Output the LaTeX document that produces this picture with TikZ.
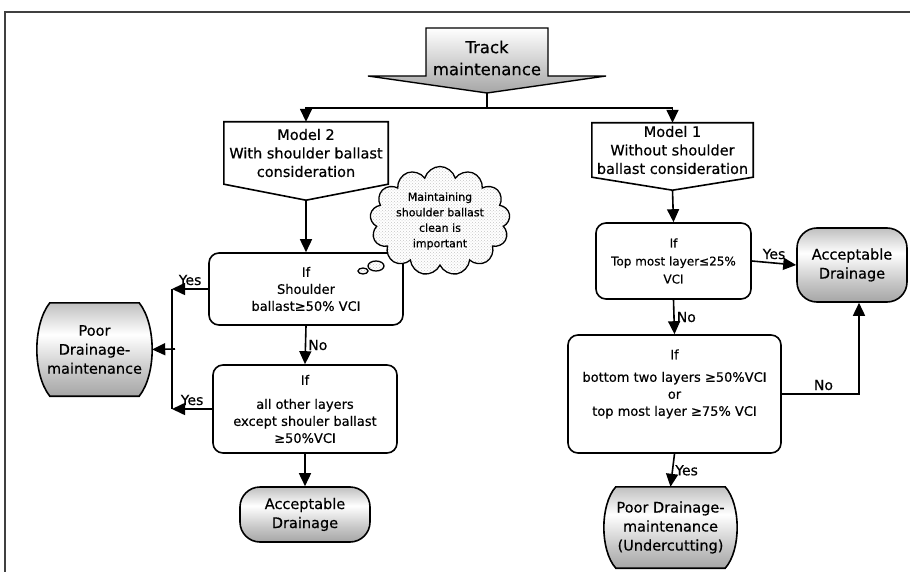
\documentclass[tikz,border=0pt]{standalone}
\usepackage{fontspec}
\setmainfont{DejaVu Sans}[FakeBold=0.5]
\usetikzlibrary{arrows.meta,positioning,calc,shapes.symbols,shapes.geometric,patterns,backgrounds}

\pgfdeclareverticalshading{termshade}{100bp}{color(0bp)=(gray!70); color(25bp)=(gray!70); color(38bp)=(gray!45); color(58bp)=(white); color(75bp)=(gray!50); color(100bp)=(gray!50)}

\newcommand\ftrack{\fontsize{16.5}{22}\selectfont}
\newcommand\fmodel{\fontsize{14.5}{18.5}\selectfont}
\newcommand\fterm{\fontsize{14.5}{19}\selectfont}
\newcommand\fif{\fontsize{13}{17}\selectfont}
\newcommand\fsmall{\fontsize{12}{18}\selectfont}
\newcommand\flbl{\fontsize{14}{16}\selectfont}
\newcommand\fcloud{\fontsize{11}{15.5}\selectfont}

% pentagon under a node, tip coordinate is <name>tip
\newcommand\modelshape[2]{\draw[ln] (#1.north west) -- (#1.north east) -- (#1.south east) -- ($(#1.south)+(0,#2)$) coordinate (#1tip) -- (#1.south west) -- cycle;}
% box with bulging sides, drawn behind a node
\newcommand\poorshape[3]{\path[bulge] ($(#1.north west)+(#2,0)$) coordinate (#1a) -- ($(#1.north east)+(-#2,0)$) .. controls +(1.33*#2,#3) and +(1.33*#2,-#3) .. ($(#1.south east)+(-#2,0)$) -- ($(#1.south west)+(#2,0)$) .. controls +(-1.33*#2,-#3) and +(-1.33*#2,#3) .. (#1a) -- cycle;}

\tikzset{
  ln/.style={line width=1.6pt},
  arr/.style={ln, -{Triangle[length=13pt,width=12pt]}},
  ifbox/.style={draw, ln, rounded corners=10pt, align=center, inner sep=0pt},
  term/.style={draw, ln, rounded corners=20pt, shading=termshade, align=center, font=\fterm, inner sep=0pt},
  bulge/.style={draw, ln, shading=termshade},
  lbl/.style={font=\flbl, inner sep=0pt},
  thought/.style={draw, line width=1.3pt, preaction={fill=white}, pattern=crosshatch dots, pattern color=gray!45},
}

\begin{document}
\begin{tikzpicture}[x=1pt,y=-1pt]
\useasboundingbox (0,0) rectangle (910,572);
% frame
\draw[line width=1.2pt, black!75] (5,572) -- (5,12) -- (910,12);

% track maintenance
\draw[line width=1.4pt, top color=white, bottom color=gray!70] (426,28) -- (548,28) -- (548,76) -- (606,76) -- (487,93) coordinate (tracktip) -- (368,76) -- (426,76) -- cycle;
\node[font=\ftrack, align=center] (track) at (487,58) {Track\\maintenance};

% the two models
\node[font=\fmodel, align=center, minimum width=164, minimum height=62, inner sep=0pt] (m2) at (306,153) {Model 2\\With shoulder ballast\\consideration};
\modelshape{m2}{16}
\node[font=\fmodel, align=center, minimum width=161, minimum height=54, inner sep=0pt] (m1) at (672.5,150) {Model 1\\Without shoulder\\ballast consideration};
\modelshape{m1}{13}

\draw[ln] (tracktip) -- ++(0,15) coordinate (split);
\draw[arr] (split) -| (m2.north);
\draw[arr] (split) -| (m1.north);

% model 2 branch
\node[ifbox, font=\fif, minimum width=194, minimum height=72] (ifS) at (306,289) {If\\Shoulder\\ballast≥50\% VCI};
\node[ifbox, font=\fif, minimum width=184, minimum height=88] (ifA) at (305,409) {If\\[7pt]all other layers\\except shouler ballast\\≥50\%VCI};
\node[term, minimum width=130, minimum height=55] (accL) at (305,514.5) {Acceptable\\Drainage};
\node[font=\fterm, align=center, minimum width=115, minimum height=93, inner sep=0pt] (poorL) at (94.5,349.5) {Poor\\Drainage-\\maintenance};
\begin{scope}[on background layer]
\poorshape{poorL}{13}{22}
\end{scope}

\draw[arr] (m2tip) -- (ifS.north);
\draw[arr] (ifS.south) -- node[lbl, right=2pt] {No} (ifA.north);
\draw[arr] (ifA.south) -- (accL.north);
\coordinate (join) at (172,349);
\draw[arr] (ifS.west) -- node[lbl, above=3pt] {Yes} (ifS.west -| join);
\draw[ln] (ifS.west -| join) -- (ifA.west -| join);
\draw[arr] (ifA.west) -- node[lbl, above=3pt] {Yes} (ifA.west -| join);
\draw[arr] ([xshift=3pt]join) -- (poorL.east);

% model 1 branch
\node[ifbox, font=\fsmall, minimum width=155, minimum height=76] (ifT) at (673.5,261) {If\\Top most layer≤25\%\\VCI};
\node[term, minimum width=110, minimum height=74] (accR) at (852,265) {Acceptable\\Drainage};
\node[ifbox, minimum width=213, minimum height=118] (ifB) at (674.5,394) {};
\node[font=\fif, align=center, below, inner sep=0pt] (ifBtxt) at ($(ifB.north)+(0,15)$) {If\\[5.5pt]bottom two layers ≥50\%VCI\\or\\top most layer ≥75\% VCI};
\node[font=\fterm, align=center, minimum width=133, minimum height=81, inner sep=0pt] (poorU) at (670.5,527.5) {Poor Drainage-\\maintenance\\(Undercutting)};
\begin{scope}[on background layer]
\poorshape{poorU}{12}{18}
\end{scope}

\draw[arr] (m1tip) -- (ifT.north);
\draw[arr] (ifT.east) -- node[lbl, above=3pt] {Yes} (accR.west);
\draw[arr] (ifT.south) -- node[lbl, right=2pt] {No} (ifB.north);
\draw[arr] (ifB.east) -| node[lbl, above=3pt, pos=0.27] {No} ([xshift=7pt]accR.south);
\draw[arr] (ifB.south) -- node[lbl, right=2pt] {Yes} (poorU.north);

% thought cloud
\node[thought, cloud, cloud puffs=13, aspect=1.4, minimum width=140, minimum height=96, font=\fcloud, align=center, inner sep=0pt] (note) at (440,221) {Maintaining\\shoulder ballast\\clean is\\important};
\node[thought, ellipse, minimum width=16, minimum height=10, inner sep=0pt] (bub1) at (376,266) {};
\node[thought, ellipse, minimum width=10, minimum height=6, inner sep=0pt] (bub2) at (363,271) {};
\end{tikzpicture}
\end{document}
